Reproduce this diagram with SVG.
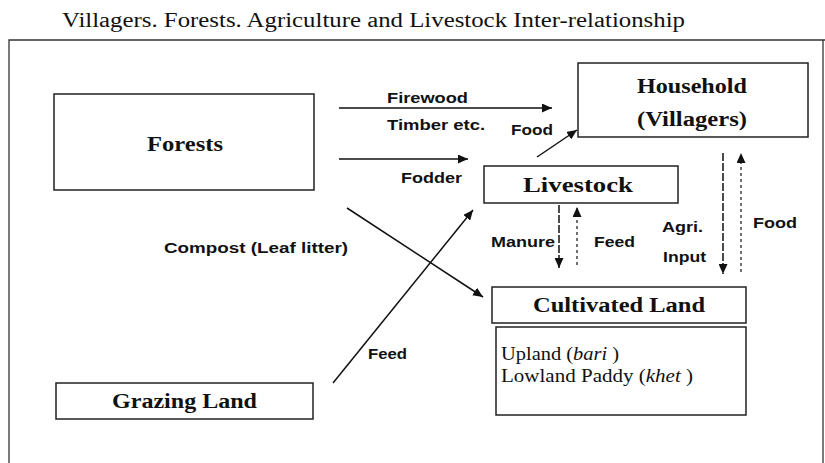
<svg xmlns="http://www.w3.org/2000/svg" width="825" height="463" viewBox="0 0 825 463">
<defs>
<marker id="ah" markerUnits="userSpaceOnUse" markerWidth="11" markerHeight="9" refX="10" refY="4.5" orient="auto">
<path d="M0,0 L10,4.5 L0,9 z" fill="#111"/>
</marker>
<style>
.box{fill:#fff;stroke:#222;stroke-width:1.5}
.ser{font-family:"Liberation Serif","Times New Roman",serif;font-weight:bold;font-size:20px;fill:#111}
.title{font-family:"Liberation Serif","Times New Roman",serif;font-size:20px;fill:#111}
.reg{font-family:"Liberation Serif","Times New Roman",serif;font-size:18px;fill:#111}
.lab{font-family:"Liberation Sans",Arial,sans-serif;font-weight:bold;font-size:14px;fill:#111}
.arr{fill:none;stroke:#111;stroke-width:1.5;marker-end:url(#ah)}
.dash{stroke-dasharray:8,2}
.dot{stroke-dasharray:3,3;stroke-width:1.2}
.frame{fill:none;stroke:#333;stroke-width:1.3}
</style>
</defs>
<rect width="825" height="463" fill="#fff"/>
<text class="title" x="62" y="27" textLength="623" lengthAdjust="spacingAndGlyphs">Villagers. Forests. Agriculture and Livestock Inter-relationship</text>
<path class="frame" d="M825,40 L9,40 L9,463 M823,40 L823,463"/>

<g id="forests">
<rect class="box" x="54" y="94" width="260" height="96"/>
<text class="ser" x="147" y="151" textLength="76" lengthAdjust="spacingAndGlyphs">Forests</text>
</g>
<g id="household">
<rect class="box" x="578" y="63" width="230" height="74"/>
<text class="ser" x="637" y="93" textLength="110" lengthAdjust="spacingAndGlyphs">Household</text>
<text class="ser" x="637" y="126" textLength="110" lengthAdjust="spacingAndGlyphs">(Villagers)</text>
</g>
<g id="livestock">
<rect class="box" x="484" y="166" width="194" height="37"/>
<text class="ser" x="523" y="192" textLength="110" lengthAdjust="spacingAndGlyphs">Livestock</text>
</g>
<g id="cultivated">
<rect class="box" x="492" y="287" width="254" height="36"/>
<text class="ser" x="533" y="312" textLength="172" lengthAdjust="spacingAndGlyphs">Cultivated Land</text>
</g>
<g id="landtypes">
<rect class="box" x="496" y="327" width="250" height="88"/>
<text class="reg" x="501" y="360" textLength="118" lengthAdjust="spacingAndGlyphs">Upland (<tspan font-style="italic">bari</tspan> )</text>
<text class="reg" x="501" y="382" textLength="192" lengthAdjust="spacingAndGlyphs">Lowland Paddy (<tspan font-style="italic">khet</tspan> )</text>
</g>
<g id="grazing">
<rect class="box" x="56" y="383" width="257" height="36"/>
<text class="ser" x="112" y="408" textLength="145" lengthAdjust="spacingAndGlyphs">Grazing Land</text>
</g>

<g id="connectors">
<line class="arr" x1="339" y1="108" x2="552" y2="108"/>
<line class="arr" x1="339" y1="159" x2="468" y2="159"/>
<line class="arr" x1="537" y1="157" x2="577" y2="130"/>
<line class="arr" x1="347" y1="208" x2="483" y2="297"/>
<line class="arr" x1="333" y1="383" x2="473" y2="210"/>
<line class="arr dash" x1="559" y1="205" x2="559" y2="268"/>
<line class="arr dot" x1="577" y1="265" x2="577" y2="207"/>
<line class="arr dash" x1="723" y1="153" x2="723" y2="274"/>
<line class="arr dot" x1="741" y1="272" x2="741" y2="153"/>
</g>

<g id="labels">
<text class="lab" x="387" y="103" textLength="81" lengthAdjust="spacingAndGlyphs">Firewood</text>
<text class="lab" x="387" y="130" textLength="98" lengthAdjust="spacingAndGlyphs">Timber etc.</text>
<text class="lab" x="511" y="135" textLength="42" lengthAdjust="spacingAndGlyphs">Food</text>
<text class="lab" x="401" y="183" textLength="61" lengthAdjust="spacingAndGlyphs">Fodder</text>
<text class="lab" x="164" y="253" textLength="184" lengthAdjust="spacingAndGlyphs">Compost (Leaf litter)</text>
<text class="lab" x="491" y="247" textLength="64" lengthAdjust="spacingAndGlyphs">Manure</text>
<text class="lab" x="594" y="247" textLength="41" lengthAdjust="spacingAndGlyphs">Feed</text>
<text class="lab" x="662" y="232" textLength="41" lengthAdjust="spacingAndGlyphs">Agri.</text>
<text class="lab" x="663" y="262" textLength="43" lengthAdjust="spacingAndGlyphs">Input</text>
<text class="lab" x="753" y="228" textLength="44" lengthAdjust="spacingAndGlyphs">Food</text>
<text class="lab" x="368" y="359" textLength="39" lengthAdjust="spacingAndGlyphs">Feed</text>
</g>
</svg>
